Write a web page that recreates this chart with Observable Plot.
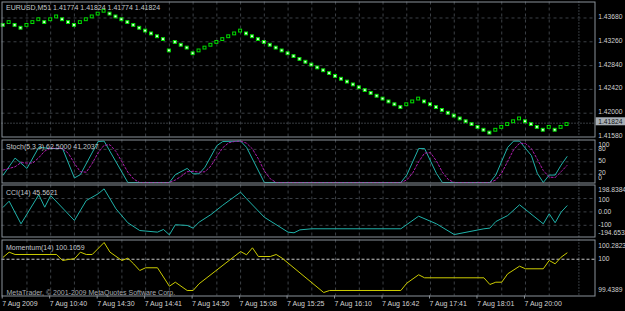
<!DOCTYPE html>
<html><head><meta charset="utf-8">
<script src="https://cdn.jsdelivr.net/npm/d3@7"></script>
<script src="https://cdn.jsdelivr.net/npm/@observablehq/plot@0.6"></script>
<style>
html,body{margin:0;padding:0;background:#000;}
#chart{position:relative;width:625px;height:311px;background:#000;overflow:hidden;}
#chart svg{position:absolute;left:0;}
</style></head><body><div id="chart"></div>
<script>
// ---- data ----
const brickOpen = [1.43574,1.43574,1.43574,1.43524,1.43524,1.43574,1.43624,1.43624,1.43624,1.43674,
1.43674,1.43624,1.43574,1.43574,1.43624,1.43674,1.43724,1.43774,1.43774,1.43724,
1.43674,1.43624,1.43574,1.43524,1.43474,1.43424,1.43374,1.43324,1.43124,1.43274,
1.43224,1.43174,1.43074,1.43074,1.43124,1.43174,1.43224,1.43274,1.43324,1.43374,
1.43424,1.43424,1.43374,1.43324,1.43274,1.43224,1.43174,1.43124,1.43074,1.43024,
1.42974,1.42924,1.42874,1.42824,1.42774,1.42724,1.42674,1.42624,1.42574,1.42524,
1.42474,1.42424,1.42374,1.42324,1.42274,1.42224,1.42174,1.42124,1.42124,1.42174,
1.42224,1.42224,1.42174,1.42124,1.42074,1.42024,1.41974,1.41924,1.41874,1.41824,
1.41774,1.41724,1.41674,1.41674,1.41724,1.41774,1.41824,1.41874,1.41874,1.41824,
1.41774,1.41724,1.41724,1.41724,1.41724,1.41774];
const brickClose = [1.43524,1.43624,1.43524,1.43474,1.43574,1.43624,1.43674,1.43574,1.43674,1.43724,
1.43624,1.43574,1.43524,1.43624,1.43674,1.43724,1.43774,1.43824,1.43724,1.43674,
1.43624,1.43574,1.43524,1.43474,1.43424,1.43374,1.43324,1.43274,1.43074,1.43224,
1.43174,1.43124,1.43024,1.43124,1.43174,1.43224,1.43274,1.43324,1.43374,1.43424,
1.43474,1.43374,1.43324,1.43274,1.43224,1.43174,1.43124,1.43074,1.43024,1.42974,
1.42924,1.42874,1.42824,1.42774,1.42724,1.42674,1.42624,1.42574,1.42524,1.42474,
1.42424,1.42374,1.42324,1.42274,1.42224,1.42174,1.42124,1.42074,1.42174,1.42224,
1.42274,1.42174,1.42124,1.42074,1.42024,1.41974,1.41924,1.41874,1.41824,1.41774,
1.41724,1.41674,1.41624,1.41724,1.41774,1.41824,1.41874,1.41924,1.41824,1.41774,
1.41724,1.41674,1.41774,1.41674,1.41774,1.41824];

const stochIdx  = [0,2,4,6,8,10,12,13,16,17,21,28,29,31,32,33,34,36,37,40,41,44,67,68,70,71,73,74,82,83,85,86,87,89,90,91,92,93,94,95];
const stochMain = [18,59,34,85,82,82,11,19,99,100,0,0,19,34,21,21,37,89,99,100,85,0,0,18,82,82,22,0,0,18,85,100,100,65,22,0,18,18,42,62.5];
const sigIdx  = [0,2,3,4,5,6,7,8,10,11,12,13,14,15,16,17,18,19,20,21,22,23,28,29,30,31,32,33,34,35,36,37,38,39,40,41,42,43,44,45,46,67,68,69,70,71,72,73,74,75,76,82,83,84,85,86,87,88,89,90,91,92,93,94,95];
const sigVals = [30,38,48,47,47,60,76,83,82,70,46,26,25,46,72,90,91,75,50,25,8,0,0,6,15,26,27,25,26,40,63,84,96,99,100,95,81,57,28,9,0,0,6,23,50,71,72,52,25,7,0,0,6,23,51,79,95,94,82,56,29,13,12,26,41.2037];

const cciIdx  = [0,1,3,6,7,8,12,14,16,17,19,21,23,26,27,28,29,31,32,33,35,37,40,41,44,48,49,50,52,67,70,73,76,81,82,83,85,87,91,92,93,94,95];
const cciVals = [35,80,-89,128,35,122,-64,85,135,172,23,-81,-139,-151,-131,-171,-96,-101,-121,-77,-20,50,147,98,-40,-151,-156,-134,-126,-126,-32,-89,-169,-126,-121,-72,-27,53,-89,-14,-81,-2,45.5621];

const momIdx  = [0,1,2,9,10,11,12,13,14,15,17,18,20,21,22,23,24,26,28,29,31,32,33,40,41,42,43,45,46,47,54,55,67,68,70,71,81,82,83,84,85,87,88,91,92,93,94,95];
const momVals = [100.034,100.119,100.080,100.080,99.979,99.996,100.007,100.119,100.080,100.080,100.2823,100.119,99.979,100.018,99.92,99.81,99.856,99.856,99.545,99.613,99.473,99.473,99.586,100.13,100.075,100.193,100.046,100.046,100.080,100.018,99.4389,99.473,99.473,99.596,99.738,99.687,99.687,99.574,99.613,99.613,99.754,99.883,99.839,99.839,99.979,99.923,100.034,100.1059];

const priceTicks = [1.43680,1.43260,1.42840,1.42420,1.42000,1.41580];
const bidPrice = 1.41824;
const stochLevels = [80,50,20];
const stochLabels = [100,80,50,20,0];
const cciLevels = [100,0,-100];
const cciLabels = [198.8384,100,0,-100,-194.6533];
const cciLabelText = ["198.8384","100","0.00","-100","-194.6533"];
const momLevel = 100;
const momLabels = [100.2823,100,99.4389];
const momLabelText = ["100.2823","100","99.4389"];
const timeIdx = [0,8,16,24,32,40,48,56,64,72,80,88];
const timeLabels = ["7 Aug 2009","7 Aug 10:40","7 Aug 14:30","7 Aug 14:41","7 Aug 14:50","7 Aug 15:08","7 Aug 15:25","7 Aug 16:10","7 Aug 16:42","7 Aug 17:41","7 Aug 18:01","7 Aug 20:00"];
const gridIdx = [4,8,12,16,20,24,28,32,36,40,44,48,52,56,60,64,68,72,76,80,84,88,92];
const sepIdx = [97];

const titleMain = "EURUSD,M51 1.41774 1.41824 1.41774 1.41824";
const titleStoch = "Stoch(5,3,3) 62.5000 41.2037";
const titleCCI = "CCI(14) 45.5621";
const titleMom = "Momentum(14) 100.1059";
const copyright = "MetaTrader, \u00a9 2001-2009 MetaQuotes Software Corp.";

// ---- tables ----
const bricks = brickOpen.map((o, i) => ({i, open: o, close: brickClose[i], bull: brickClose[i] > o}));
const stochMainData = stochIdx.map((i, k) => ({i, v: stochMain[k]}));
const stochSigData = sigIdx.map((i, k) => ({i, v: sigVals[k]}));
const cciData = cciIdx.map((i, k) => ({i, v: cciVals[k]}));
const momData = momIdx.map((i, k) => ({i, v: momVals[k]}));

// ---- style ----
const FRAME = "#8a929a", GRID = "#3c4046", TXT = "#d2d2d2", LBL = "#c4c8cc";
const FONT = "'Liberation Sans', Arial, sans-serif";
const xDomain = [-0.202, 99.714];
const root = document.getElementById("chart");

function panel(top, height, mt, mb, yDomain, marks, showX = false) {
  const svg = Plot.plot({
    width: 625, height,
    marginLeft: 1.5, marginRight: 30.5, marginTop: mt, marginBottom: mb,
    x: showX ? {domain: xDomain, label: null} : {domain: xDomain, axis: null, label: null},
    y: {domain: yDomain, axis: null, label: null},
    style: {background: "transparent", color: TXT, fontFamily: FONT, fontSize: "7px", overflow: "visible"},
    marks
  });
  svg.style.top = top + "px";
  root.append(svg);
}

const vgrid = () => [
  Plot.ruleX(gridIdx, {x: d => d, stroke: GRID, strokeDasharray: "3,3"}),
  Plot.ruleX(sepIdx, {x: d => d, stroke: "#6c757e", strokeDasharray: "1,2"})
];
const rightLabel = (v, txt, dy, extra = {}) =>
  Plot.text([v], {y: d => d, frameAnchor: "right", dx: 3.2, dy, text: () => txt, textAnchor: "start", lineAnchor: "middle", fontSize: 6.7, fill: TXT, ...extra});
const panelTitle = (t, dy) =>
  Plot.text([t], {frameAnchor: "top-left", dx: 4, dy, text: d => d, textAnchor: "start", lineAnchor: "middle", fontSize: 7, fill: LBL});

// ---- main price panel ----
panel(0, 138, 1.5, 1.5, [1.41580, 1.439622], [
  ...vgrid(),
  Plot.ruleY(priceTicks.slice(0, 5), {y: d => d, stroke: GRID, strokeDasharray: "3,3"}),
  Plot.ruleY([bidPrice], {y: d => d, stroke: "#6f7780", strokeDasharray: "1,2"}),
  Plot.rect(bricks, {
    x1: d => d.i - 0.25, x2: d => d.i + 0.25, y1: "open", y2: "close",
    fill: d => d.bull ? "#000000" : "#e6ffe6", stroke: "#00dd00", strokeWidth: 1
  }),
  Plot.frame({stroke: FRAME}),
  ...priceTicks.map(v => rightLabel(v, v.toFixed(5), -1.2)),
  Plot.rect([bidPrice], {x1: xDomain[1], x2: xDomain[1], y1: d => d, y2: d => d,
    insetLeft: 1.2, insetRight: -30.5, insetTop: -5.4, insetBottom: -2.6, fill: "#a7aeb5"}),
  rightLabel(bidPrice, bidPrice.toFixed(5), -1.4, {fill: "#141414"}),
  panelTitle(titleMain, 5.8)
]);

// ---- stochastic panel ----
panel(138, 46, 1.5, 1.5, [-1.2, 102.66], [
  ...vgrid(),
  Plot.ruleY(stochLevels, {y: d => d, stroke: GRID, strokeDasharray: "3,3"}),
  Plot.line(stochMainData, {x: "i", y: "v", stroke: "#20b2aa", strokeWidth: 1}),
  Plot.line(stochSigData, {x: "i", y: "v", stroke: "#b01cb0", strokeWidth: 1, strokeDasharray: "2,2"}),
  Plot.frame({stroke: FRAME}),
  rightLabel(stochLabels[0], "100", 3.4),
  rightLabel(stochLabels[1], "80", -1),
  rightLabel(stochLabels[2], "50", -0.8),
  rightLabel(stochLabels[3], "20", -1.2),
  rightLabel(stochLabels[4], "0", -4.7),
  panelTitle(titleStoch, 7.2)
]);

// ---- CCI panel ----
const cciDy = [5, 1, 0.3, -0.8, -5.2];
panel(184, 54, 0.5, 1.5, [-187.3, 200.7], [
  ...vgrid(),
  Plot.ruleY(cciLevels, {y: d => d, stroke: GRID, strokeDasharray: "3,3"}),
  Plot.line(cciData, {x: "i", y: "v", stroke: "#20b2aa", strokeWidth: 1}),
  Plot.frame({stroke: FRAME}),
  ...cciLabels.map((v, k) => rightLabel(v, cciLabelText[k], cciDy[k])),
  panelTitle(titleCCI, 7.8)
]);

// ---- Momentum panel + time axis ----
const momDy = [3.3, -0.4, -2.3];
panel(238, 73, 1.5, 15.5, [99.3801, 100.3245], [
  ...vgrid(),
  Plot.ruleY([momLevel], {y: d => d, stroke: "#c8c8c8", strokeDasharray: "3,2"}),
  Plot.line(momData, {x: "i", y: "v", stroke: "#cccc00", strokeWidth: 1}),
  Plot.frame({stroke: FRAME}),
  ...momLabels.map((v, k) => rightLabel(v, momLabelText[k], momDy[k])),
  panelTitle(titleMom, 7.8),
  Plot.text([copyright], {frameAnchor: "bottom-left", dx: 4.5, dy: -3.2, text: d => d, textAnchor: "start", lineAnchor: "middle", fontSize: 7, fill: "#a8acb0"}),
  Plot.axisX(timeIdx, {
    tickFormat: d => timeLabels[timeIdx.indexOf(d)],
    tickSize: 3, tickPadding: 2, textAnchor: "start", dx: -1,
    fontSize: 7, color: TXT, stroke: FRAME, label: null
  })
], true);
</script>
</body></html>
